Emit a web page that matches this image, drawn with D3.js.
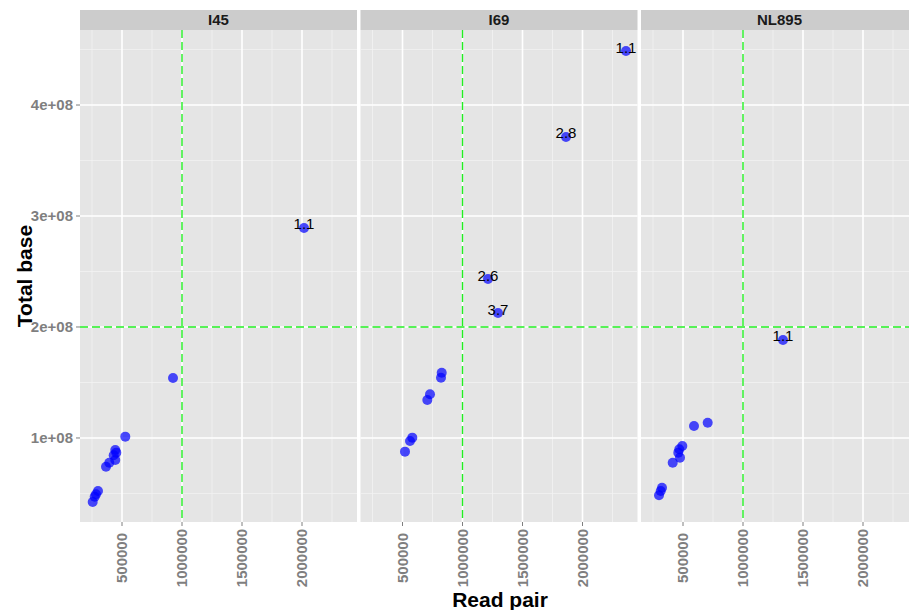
<!DOCTYPE html>
<html>
<head>
<meta charset="utf-8">
<script src="https://cdn.jsdelivr.net/npm/d3@7"></script>
<style>
  html, body { margin: 0; padding: 0; background: #ffffff; }
  svg { display: block; font-family: "Liberation Sans", Arial, Helvetica, sans-serif; }
</style>
</head>
<body>
<svg id="chart" width="909" height="610"></svg>
<script>
// ---- data ----
const samples = ["I45", "I69", "NL895"];

const readPairI45  = [527500, 444000, 452500, 430800, 444000, 394000, 366700, 300000, 283300, 272500, 255800, 925000, 2016667];
const totalBaseI45 = [1.012e8, 0.892e8, 0.868e8, 0.844e8, 0.802e8, 0.777e8, 0.741e8, 0.5225e8, 0.493e8, 0.471e8, 0.423e8, 1.54e8, 2.892e8];
const labelI45     = ["", "", "", "", "", "", "", "", "", "", "", "", "1.1"];

const readPairI69  = [826700, 820800, 729200, 706700, 581700, 562500, 520800, 1212500, 1295800, 1862500, 2362500];
const totalBaseI69 = [1.588e8, 1.543e8, 1.394e8, 1.342e8, 1.003e8, 0.973e8, 0.877e8, 2.432e8, 2.126e8, 3.712e8, 4.486e8];
const labelI69     = ["", "", "", "", "", "", "", "2.6", "3.7", "2.8", "1.1"];

const readPairNL895  = [705800, 591700, 494200, 469200, 460800, 475000, 414200, 325000, 314200, 300000, 1333300];
const totalBaseNL895 = [1.138e8, 1.108e8, 0.928e8, 0.898e8, 0.868e8, 0.823e8, 0.777e8, 0.552e8, 0.523e8, 0.484e8, 1.883e8];
const labelNL895     = ["", "", "", "", "", "", "", "", "", "", "1.1"];

const xLimits = [150000, 2458333];
const yLimits = [0.243e8, 4.667e8];
const xTicks = [500000, 1000000, 1500000, 2000000];
const xMinor = [250000, 750000, 1250000, 1750000, 2250000];
const yTicks = [1e8, 2e8, 3e8, 4e8];
const yTickLabels = ["1e+08", "2e+08", "3e+08", "4e+08"];
const yMinor = [0.5e8, 1.5e8, 2.5e8, 3.5e8, 4.5e8];
const vLine = 1000000;
const hLine = 2e8;

const panelData = [
  { name: samples[0], x: readPairI45, y: totalBaseI45, lab: labelI45 },
  { name: samples[1], x: readPairI69, y: totalBaseI69, lab: labelI69 },
  { name: samples[2], x: readPairNL895, y: totalBaseNL895, lab: labelNL895 }
];

// ---- layout ----
const svg = d3.select("#chart");
const left = 80, panelW = 277, gap = 3.5;
const stripTop = 10, stripH = 20, panelTop = 30, panelBottom = 522;

const x = d3.scaleLinear().domain(xLimits).range([0, panelW]);
const y = d3.scaleLinear().domain(yLimits).range([panelBottom, panelTop + 1]);

const tickGrey = "#7f7f7f";

panelData.forEach((p, i) => {
  const g = svg.append("g").attr("transform", `translate(${left + i * (panelW + gap)},0)`);
  // strip
  g.append("rect").attr("x", 0).attr("y", stripTop).attr("width", panelW).attr("height", stripH).attr("fill", "#cccccc");
  g.append("text").attr("x", panelW / 2).attr("y", stripTop + stripH / 2).attr("dy", "0.35em")
    .attr("text-anchor", "middle").attr("font-size", 15).attr("font-weight", "bold").attr("fill", "#1a1a1a").text(p.name);
  // panel bg
  g.append("rect").attr("x", 0).attr("y", panelTop).attr("width", panelW).attr("height", panelBottom - panelTop).attr("fill", "#e5e5e5");
  // minor grid
  g.selectAll(".xminor").data(xMinor).join("line")
    .attr("x1", d => x(d)).attr("x2", d => x(d)).attr("y1", panelTop).attr("y2", panelBottom)
    .attr("stroke", "#f2f2f2").attr("stroke-width", 0.8);
  g.selectAll(".yminor").data(yMinor).join("line")
    .attr("x1", 0).attr("x2", panelW).attr("y1", d => y(d)).attr("y2", d => y(d))
    .attr("stroke", "#f2f2f2").attr("stroke-width", 0.8);
  // major grid
  g.selectAll(".xmajor").data(xTicks).join("line")
    .attr("x1", d => x(d)).attr("x2", d => x(d)).attr("y1", panelTop).attr("y2", panelBottom)
    .attr("stroke", "#ffffff").attr("stroke-width", 1.6);
  g.selectAll(".ymajor").data(yTicks).join("line")
    .attr("x1", 0).attr("x2", panelW).attr("y1", d => y(d)).attr("y2", d => y(d))
    .attr("stroke", "#ffffff").attr("stroke-width", 1.6);
  // reference lines
  g.append("line").attr("x1", x(vLine)).attr("x2", x(vLine)).attr("y1", panelTop).attr("y2", panelBottom)
    .attr("stroke", "#22ee22").attr("stroke-width", 1.4).attr("stroke-dasharray", "8,4");
  g.append("line").attr("x1", 0).attr("x2", panelW).attr("y1", y(hLine)).attr("y2", y(hLine))
    .attr("stroke", "#22ee22").attr("stroke-width", 1.4).attr("stroke-dasharray", "8,4");
  // points
  const idx = d3.range(p.x.length);
  g.selectAll(".pt").data(idx).join("circle")
    .attr("cx", d => x(p.x[d])).attr("cy", d => y(p.y[d])).attr("r", 5)
    .attr("fill", "#0000ff").attr("fill-opacity", 0.7);
  // labels
  g.selectAll(".lab").data(idx.filter(d => p.lab[d] !== "")).join("text")
    .attr("x", d => x(p.x[d])).attr("y", d => y(p.y[d])).attr("dy", "0.1em")
    .attr("text-anchor", "middle").attr("font-size", 15).attr("fill", "#000000").text(d => p.lab[d]);
  // x axis ticks
  g.selectAll(".xt").data(xTicks).join("line")
    .attr("x1", d => x(d)).attr("x2", d => x(d)).attr("y1", panelBottom).attr("y2", panelBottom + 4)
    .attr("stroke", tickGrey).attr("stroke-width", 1);
  g.selectAll(".xtl").data(xTicks).join("text")
    .attr("transform", d => `translate(${x(d)},558) rotate(-90)`)
    .attr("text-anchor", "middle").attr("dy", "0.35em").attr("font-size", 15).attr("font-weight", "bold")
    .attr("fill", tickGrey).text(d => d3.format("d")(d));
});

// y axis
const ya = svg.append("g");
ya.selectAll("line").data(yTicks).join("line")
  .attr("x1", left - 4).attr("x2", left).attr("y1", d => y(d)).attr("y2", d => y(d))
  .attr("stroke", tickGrey).attr("stroke-width", 1);
ya.selectAll("text").data(yTicks).join("text")
  .attr("x", left - 7).attr("y", d => y(d)).attr("dy", "0.35em").attr("text-anchor", "end")
  .attr("font-size", 15).attr("font-weight", "bold").attr("fill", tickGrey)
  .text((d, i) => yTickLabels[i]);

// axis titles
svg.append("text").attr("x", 500).attr("y", 600).attr("dy", "0.35em")
  .attr("text-anchor", "middle").attr("font-size", 21).attr("font-weight", "bold").text("Read pair");
svg.append("text").attr("transform", `translate(25,${(panelTop + panelBottom) / 2}) rotate(-90)`).attr("dy", "0.35em")
  .attr("text-anchor", "middle").attr("font-size", 21).attr("font-weight", "bold").text("Total base");
</script>
</body>
</html>
